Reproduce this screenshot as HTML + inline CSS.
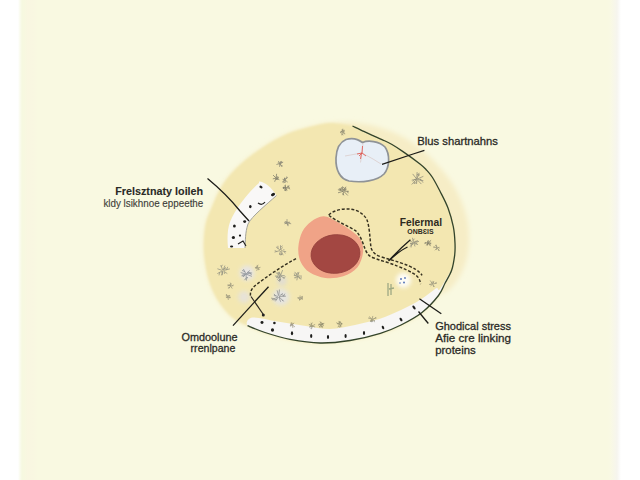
<!DOCTYPE html>
<html><head><meta charset="utf-8">
<style>
html,body{margin:0;padding:0;width:640px;height:480px;overflow:hidden;background:#fff;}
#bg{position:absolute;left:18px;top:0;width:603px;height:480px;
background:linear-gradient(90deg,#ffffff 0px,#fbfcf2 1.5px,#f6f8e0 4px,#f7f8e0 6px,#f9f6e1 10px,#f9f7e1 15px,#f9f9e1 20px,#f9f9e1 589px,#f9f9e3 592px,#f6f5ee 599px,#fcfcfb 602px,#fff 603px);}
svg{position:absolute;left:0;top:0;}
.t{font-family:"Liberation Sans",sans-serif;fill:#2a2a26;stroke:#2a2a26;stroke-width:0.3px;}
</style></head>
<body>
<div id="bg"></div>
<svg width="640" height="480" viewBox="0 0 640 480">
<defs>
<filter id="b05" x="-5%" y="-5%" width="110%" height="110%"><feGaussianBlur stdDeviation="0.6"/></filter>
<filter id="b15" x="-10%" y="-10%" width="120%" height="120%"><feGaussianBlur stdDeviation="2.4"/></filter>
<filter id="b08" x="-10%" y="-10%" width="120%" height="120%"><feGaussianBlur stdDeviation="0.9"/></filter>
<filter id="b2" x="-50%" y="-50%" width="200%" height="200%"><feGaussianBlur stdDeviation="2"/></filter>
<linearGradient id="bandg" x1="0" y1="0" x2="0" y2="1">
<stop offset="0" stop-color="#f2eedc"/><stop offset="0.35" stop-color="#f7f6f4"/><stop offset="1" stop-color="#f8f7f8"/>
</linearGradient>
</defs>
<path d="M330.0,123.0 C337.1,122.2 345.3,122.2 352.0,122.5 C358.7,122.8 364.9,124.0 370.0,125.0 C375.1,126.0 378.3,127.2 382.5,128.5 C386.7,129.8 390.8,131.2 395.0,133.0 C399.2,134.8 403.2,136.8 407.5,139.5 C411.8,142.2 416.8,145.6 421.0,149.0 C425.2,152.4 428.2,154.8 433.0,160.0 C437.8,165.2 445.3,173.3 450.0,180.0 C454.7,186.7 458.1,193.2 461.0,200.0 C463.9,206.8 466.2,214.3 467.5,221.0 C468.8,227.7 469.1,233.8 469.0,240.0 C468.9,246.2 468.5,252.0 467.0,258.0 C465.5,264.0 463.0,270.7 460.0,276.0 C457.0,281.3 452.6,286.8 449.0,290.0 C445.4,293.2 443.0,291.8 438.5,295.5 C434.0,299.2 428.2,307.6 422.0,312.5 C415.8,317.4 407.9,321.5 401.0,325.0 C394.1,328.5 388.9,330.8 380.4,333.3 C371.9,335.8 360.1,338.4 350.0,340.0 C339.9,341.6 330.0,343.1 320.0,343.0 C310.0,342.9 299.2,341.1 290.0,339.4 C280.8,337.6 272.1,334.8 265.0,332.5 C257.9,330.2 252.8,328.0 247.5,325.6 C242.2,323.2 237.8,321.9 233.0,318.0 C228.2,314.1 223.0,308.2 219.0,302.0 C215.0,295.8 211.5,288.8 209.0,280.5 C206.5,272.2 204.6,261.1 204.0,252.0 C203.4,242.9 204.1,233.5 205.4,226.0 C206.7,218.5 209.0,214.1 212.0,207.0 C215.0,199.9 218.7,190.7 223.5,183.5 C228.3,176.3 234.3,170.1 241.0,164.0 C247.7,157.9 255.8,152.0 263.5,147.0 C271.2,142.0 279.4,137.3 287.0,134.0 C294.6,130.7 302.2,128.8 309.4,127.0 C316.6,125.2 322.9,123.8 330.0,123.0 Z" fill="#f6edc6" filter="url(#b15)"/>
<path d="M352.5,126.0 C354.4,126.9 360.3,129.8 363.8,131.4 C367.2,133.0 369.9,134.2 373.0,135.6 C376.1,137.0 379.3,138.3 382.5,139.8 C385.7,141.3 388.6,142.5 392.0,144.5 C395.4,146.5 398.3,148.3 403.0,151.6 C407.7,154.8 416.2,161.0 420.0,164.0 C423.8,167.0 423.9,167.2 426.0,169.5 C428.1,171.8 430.2,173.9 432.5,177.5 C434.8,181.1 437.4,186.2 440.0,191.2 C442.6,196.3 445.8,202.1 448.0,208.0 C450.2,213.9 452.1,220.8 453.3,226.7 C454.5,232.6 454.8,238.6 455.0,243.3 C455.2,248.0 455.2,250.6 454.7,255.0 C454.1,259.4 453.3,265.3 451.7,270.0 C450.1,274.7 447.2,279.1 445.0,283.3 C442.8,287.6 442.3,290.6 438.5,295.5 C434.7,300.4 428.2,307.6 422.0,312.5 C415.8,317.4 407.9,321.5 401.0,325.0 C394.1,328.5 388.9,330.7 380.4,333.3 C371.9,335.9 360.1,338.9 350.0,340.5 C339.9,342.1 330.0,343.2 320.0,343.0 C310.0,342.8 299.2,341.1 290.0,339.4 C280.8,337.6 272.1,334.8 265.0,332.5 C257.9,330.2 252.8,328.0 247.5,325.6 C242.2,323.2 237.8,321.9 233.0,318.0 C228.2,314.1 223.0,308.2 219.0,302.0 C215.0,295.8 211.5,288.8 209.0,280.5 C206.5,272.2 204.6,261.1 204.0,252.0 C203.4,242.9 204.1,233.5 205.4,226.0 C206.7,218.5 209.0,214.1 212.0,207.0 C215.0,199.9 218.7,190.7 223.5,183.5 C228.3,176.3 234.3,170.1 241.0,164.0 C247.7,157.9 255.8,152.0 263.5,147.0 C271.2,142.0 279.4,137.3 287.0,134.0 C294.6,130.7 302.2,128.8 309.4,127.0 C316.6,125.2 322.8,123.2 330.0,123.0 C337.2,122.8 348.8,125.5 352.5,126.0 C356.2,126.5 350.6,125.1 352.5,126.0 Z" fill="#f3e7b1" filter="url(#b08)"/>
<path d="M440.0,289.0 C442.4,286.0 450.9,270.9 451.7,270.0 C452.5,269.1 447.2,279.1 445.0,283.3 C442.8,287.6 442.3,290.6 438.5,295.5 C434.7,300.4 428.2,307.6 422.0,312.5 C415.8,317.4 407.9,321.5 401.0,325.0 C394.1,328.5 388.9,330.7 380.4,333.3 C371.9,335.9 360.1,338.9 350.0,340.5 C339.9,342.1 330.0,343.2 320.0,343.0 C310.0,342.8 299.2,341.1 290.0,339.4 C280.8,337.6 272.1,334.8 265.0,332.5 C257.9,330.2 249.6,328.1 247.5,325.6 C245.4,323.1 247.5,318.2 252.5,317.5 C257.5,316.8 269.2,320.2 277.5,321.5 C285.8,322.8 293.8,324.2 302.5,325.5 C311.2,326.8 321.2,329.1 330.0,329.0 C338.8,328.9 346.7,326.7 355.0,325.0 C363.3,323.3 372.3,321.2 380.0,318.8 C387.7,316.2 394.3,313.1 401.0,310.0 C407.7,306.9 414.8,303.2 420.0,300.0 C425.2,296.8 429.7,293.0 432.5,291.0 C435.3,289.0 435.8,288.3 437.0,288.0 C438.2,287.7 437.6,292.0 440.0,289.0 Z" fill="#f7f6f5" filter="url(#b05)"/>
<path d="M352.5,126.0 C354.4,126.9 360.3,129.8 363.8,131.4 C367.2,133.0 369.9,134.2 373.0,135.6 C376.1,137.0 379.3,138.3 382.5,139.8 C385.7,141.3 388.6,142.5 392.0,144.5 C395.4,146.5 398.3,148.3 403.0,151.6 C407.7,154.8 416.2,161.0 420.0,164.0 C423.8,167.0 423.9,167.2 426.0,169.5 C428.1,171.8 430.2,173.9 432.5,177.5 C434.8,181.1 437.4,186.2 440.0,191.2 C442.6,196.3 445.8,202.1 448.0,208.0 C450.2,213.9 452.1,220.8 453.3,226.7 C454.5,232.6 454.8,238.6 455.0,243.3 C455.2,248.0 455.2,250.6 454.7,255.0 C454.1,259.4 453.3,265.3 451.7,270.0 C450.1,274.7 447.2,279.1 445.0,283.3 C442.8,287.6 442.3,290.6 438.5,295.5 C434.7,300.4 428.2,307.6 422.0,312.5 C415.8,317.4 407.9,321.5 401.0,325.0 C394.1,328.5 388.9,330.7 380.4,333.3 C371.9,335.9 360.1,338.9 350.0,340.5 C339.9,342.1 330.0,343.2 320.0,343.0 C310.0,342.8 299.2,341.1 290.0,339.4 C280.8,337.6 272.1,334.8 265.0,332.5 C257.9,330.2 250.4,326.8 247.5,325.6" fill="none" stroke="#33442b" stroke-width="1.3"/>
<!-- blobs -->
<g filter="url(#b2)" opacity="0.9">
<circle cx="247" cy="273" r="7.5" fill="#e6e4e8"/>
<circle cx="244" cy="297" r="6" fill="#e6e2dc"/>
<circle cx="281" cy="297" r="8.5" fill="#e4e4e6"/>
<circle cx="282" cy="281" r="5" fill="#e0ddd4"/>
<circle cx="403.5" cy="280.3" r="7.5" fill="#ffffff"/>
</g>
<g fill="#5a78b8"><circle cx="401" cy="279" r="1"/><circle cx="405" cy="278" r="0.9"/><circle cx="404" cy="282.5" r="1"/><circle cx="400" cy="283" r="0.8"/></g>
<path d="M388,283 L388,296 M391,284 L391,295 M389,289 L394,288" stroke="#8a9a78" stroke-width="1.3" fill="none" opacity="0.8"/>
<g opacity="0.60" fill="#5a5a50"><path d="M342.4,132.5 L341.8,134.9 M342.0,133.9 L342.8,135.0 M342.0,132.0 L340.4,132.0 M341.3,132.0 L340.4,132.7 M342.6,131.5 L342.8,129.1 M342.7,130.5 L342.2,129.6 M343.0,131.8 L344.4,131.1 M343.8,131.4 L344.1,130.2 M343.0,132.3 L344.9,133.5 M343.8,132.8 L344.0,134.0 " stroke="#5a5a50" stroke-width="0.80" fill="none" stroke-linecap="round"/><circle cx="342.1" cy="131.1" r="0.64"/><circle cx="341.5" cy="131.4" r="0.63"/><circle cx="343.0" cy="130.4" r="0.61"/></g>
<g opacity="0.60" fill="#4f5254"><path d="M280.3,164.0 L281.8,166.6 M281.1,165.5 L282.3,165.8 M279.9,164.1 L279.6,166.5 M279.4,163.7 L276.8,164.4 M279.7,163.0 L278.5,161.3 M280.2,162.9 L280.9,161.3 M280.4,162.4 L281.7,162.2 M280.6,163.3 L282.8,162.4 M281.6,162.9 L281.7,161.6 " stroke="#4f5254" stroke-width="0.80" fill="none" stroke-linecap="round"/><circle cx="280.1" cy="164.1" r="0.71"/><circle cx="280.0" cy="163.6" r="0.88"/><circle cx="278.3" cy="162.9" r="0.58"/></g>
<g opacity="0.60" fill="#3a3d40"><path d="M276.6,178.0 L278.3,178.0 M277.7,178.0 L278.6,177.2 M276.5,178.3 L279.0,179.6 M275.8,178.6 L274.8,181.4 M275.4,178.2 L273.2,178.8 M275.6,177.6 L273.3,175.3 M276.1,177.4 L276.6,174.2 " stroke="#3a3d40" stroke-width="0.80" fill="none" stroke-linecap="round"/><circle cx="277.1" cy="177.1" r="0.75"/><circle cx="276.0" cy="178.1" r="0.65"/><circle cx="276.9" cy="179.1" r="0.95"/></g>
<g opacity="0.60" fill="#4a4d50"><path d="M285.0,180.5 L285.1,182.5 M285.1,181.7 L284.1,182.6 M284.6,180.3 L282.7,181.6 M283.4,181.2 L283.2,182.5 M284.5,179.9 L282.9,179.4 M284.9,179.5 L284.7,178.1 M285.4,179.6 L287.4,177.5 M286.7,178.2 L286.7,176.9 M285.4,180.3 L287.4,181.9 " stroke="#4a4d50" stroke-width="0.80" fill="none" stroke-linecap="round"/><circle cx="284.8" cy="178.6" r="0.93"/><circle cx="285.6" cy="180.7" r="0.52"/><circle cx="284.4" cy="180.0" r="0.80"/></g>
<g opacity="0.60" fill="#3a3d40"><path d="M285.4,187.9 L283.8,187.7 M284.7,187.8 L283.7,188.4 M285.7,187.5 L284.9,185.9 M285.3,186.6 L285.4,185.1 M286.5,187.7 L289.1,186.1 M287.9,186.8 L288.1,185.8 M286.6,188.0 L289.6,187.9 M288.7,187.9 L289.5,189.0 M286.0,188.6 L286.1,190.4 M286.1,189.4 L287.1,190.0 M285.7,188.5 L284.7,190.3 M285.0,189.7 L285.7,190.8 " stroke="#3a3d40" stroke-width="0.80" fill="none" stroke-linecap="round"/><circle cx="285.5" cy="187.9" r="0.79"/><circle cx="283.6" cy="187.8" r="0.93"/></g>
<g opacity="0.60" fill="#5a5d60"><path d="M287.2,223.6 L287.9,225.8 M287.5,224.4 L288.6,224.9 M286.4,223.2 L284.8,223.7 M285.7,223.4 L284.8,222.7 M286.5,222.6 L285.3,221.6 M286.0,222.2 L284.8,222.2 M287.0,222.4 L287.0,219.5 M287.6,222.8 L289.2,222.1 M288.5,222.4 L289.8,222.8 M287.6,223.1 L290.8,223.7 " stroke="#5a5d60" stroke-width="0.80" fill="none" stroke-linecap="round"/><circle cx="287.0" cy="223.0" r="0.63"/><circle cx="286.8" cy="222.2" r="0.84"/><circle cx="287.4" cy="224.1" r="0.63"/><circle cx="286.4" cy="223.2" r="0.62"/></g>
<g opacity="0.60" fill="#55585a"><path d="M416.2,178.4 L412.9,174.2 M416.8,178.2 L417.1,172.5 M417.0,174.9 L419.2,173.4 M417.2,178.2 L418.7,174.2 M418.1,175.9 L419.7,174.8 M417.8,178.8 L423.0,176.5 M417.8,179.4 L423.0,180.6 M421.1,180.1 L422.8,182.3 M417.5,180.0 L421.1,183.8 M416.7,180.2 L416.6,183.6 M416.7,181.6 L414.8,183.7 M416.1,180.0 L412.0,184.2 M414.4,181.7 L414.2,183.6 M415.8,179.4 L412.1,180.1 M414.4,179.6 L413.0,181.2 " stroke="#55585a" stroke-width="0.80" fill="none" stroke-linecap="round"/><circle cx="415.3" cy="179.4" r="0.72"/><circle cx="416.7" cy="178.9" r="0.94"/><circle cx="420.4" cy="179.7" r="0.88"/></g>
<g opacity="0.60" fill="#3a3c3e"><path d="M344.1,190.4 L345.8,187.1 M344.7,189.1 L343.5,187.4 M344.4,190.7 L346.4,189.2 M345.2,190.1 L345.0,188.1 M344.6,191.2 L348.5,191.3 M347.2,191.3 L348.1,192.9 M344.3,191.9 L347.5,195.2 M343.5,192.1 L342.9,194.7 M343.1,193.6 L343.7,195.0 M342.8,191.4 L338.4,192.7 M342.8,191.0 L338.3,189.8 M340.1,190.2 L339.4,188.6 M343.2,190.4 L341.5,187.6 M342.2,188.8 L342.5,186.8 " stroke="#3a3c3e" stroke-width="0.80" fill="none" stroke-linecap="round"/><circle cx="343.4" cy="189.6" r="0.60"/><circle cx="340.8" cy="189.2" r="0.89"/><circle cx="342.9" cy="191.1" r="0.58"/></g>
<g opacity="0.60" fill="#5c6266"><path d="M222.8,271.6 L222.3,274.8 M222.6,271.6 L221.5,275.0 M222.0,271.1 L217.7,273.4 M219.6,272.4 L219.1,275.0 M221.9,270.3 L217.8,268.9 M222.5,269.6 L220.9,265.5 M221.3,266.6 L222.3,265.1 M223.3,269.6 L224.8,265.9 M223.5,269.8 L225.4,267.4 M224.2,268.9 L226.1,268.9 M223.9,270.4 L229.5,269.0 M226.6,269.7 L227.6,267.2 M223.8,271.2 L227.0,273.4 " stroke="#5c6266" stroke-width="0.80" fill="none" stroke-linecap="round"/><circle cx="224.5" cy="273.1" r="0.74"/><circle cx="222.2" cy="272.2" r="0.79"/></g>
<g opacity="0.60" fill="#4f5a68"><path d="M245.1,274.3 L242.2,275.2 M245.1,273.8 L241.1,272.7 M245.5,273.1 L243.6,269.4 M244.8,271.6 L242.4,270.6 M246.7,273.3 L249.5,270.7 M247.8,272.3 L250.3,272.6 M247.0,273.8 L251.7,273.0 M250.2,273.3 L251.3,274.7 M246.9,274.4 L251.5,276.2 M246.1,275.0 L246.4,280.2 M246.3,277.8 L244.8,279.8 M245.3,274.7 L243.4,276.7 M244.3,275.7 L242.0,275.9 " stroke="#4f5a68" stroke-width="0.80" fill="none" stroke-linecap="round"/><circle cx="246.0" cy="274.0" r="0.84"/><circle cx="247.3" cy="277.7" r="0.65"/></g>
<g opacity="0.60" fill="#6a6a60"><path d="M230.1,285.8 L228.0,284.9 M228.7,285.2 L227.8,285.6 M230.7,285.5 L231.0,283.6 M230.9,284.1 L230.3,282.9 M231.1,285.9 L233.1,285.7 M232.4,285.8 L233.1,285.0 M230.9,286.4 L232.0,288.2 M230.3,286.4 L229.1,288.2 M229.6,287.5 L228.3,287.9 " stroke="#6a6a60" stroke-width="0.80" fill="none" stroke-linecap="round"/><circle cx="228.8" cy="285.6" r="0.61"/><circle cx="230.0" cy="285.0" r="0.71"/><circle cx="230.1" cy="285.3" r="0.73"/></g>
<g opacity="0.60" fill="#5f6266"><path d="M279.6,250.7 L274.9,252.0 M276.8,251.5 L275.1,250.7 M279.8,249.9 L276.3,247.1 M278.0,248.5 L277.9,246.2 M280.5,249.6 L280.5,245.6 M280.5,247.4 L282.3,246.0 M281.0,249.7 L282.3,247.6 M281.4,250.7 L285.8,251.6 M284.1,251.3 L285.1,253.1 M281.0,251.3 L283.0,254.9 M282.0,253.1 L281.2,254.7 M280.3,251.4 L279.6,254.5 M279.9,253.4 L280.6,255.0 " stroke="#5f6266" stroke-width="0.80" fill="none" stroke-linecap="round"/><circle cx="283.9" cy="249.6" r="0.50"/><circle cx="281.5" cy="254.2" r="0.71"/></g>
<g opacity="0.60" fill="#5c6266"><path d="M279.5,275.9 L275.3,276.1 M277.8,276.0 L276.6,277.6 M279.7,275.3 L275.8,272.6 M278.1,274.2 L278.3,272.4 M280.2,274.9 L279.4,272.1 M279.9,273.7 L277.8,272.9 M280.7,275.0 L282.5,270.4 M281.3,275.7 L284.3,275.6 M281.2,276.3 L284.2,278.3 M283.4,277.8 L285.2,276.9 M280.3,276.7 L279.7,281.4 M279.9,279.5 L278.4,280.6 M279.8,276.5 L277.5,279.4 M278.9,277.6 L276.6,277.1 " stroke="#5c6266" stroke-width="0.80" fill="none" stroke-linecap="round"/><circle cx="280.1" cy="279.7" r="0.89"/><circle cx="279.4" cy="276.7" r="0.61"/><circle cx="279.6" cy="277.1" r="0.76"/><circle cx="280.5" cy="275.0" r="0.67"/></g>
<g opacity="0.60" fill="#5c6266"><path d="M297.5,276.5 L296.9,280.0 M297.1,276.3 L295.3,278.2 M296.3,277.1 L294.7,277.4 M296.9,275.7 L294.2,275.4 M295.1,275.5 L294.4,273.8 M297.2,275.2 L294.9,272.2 M297.9,275.1 L298.9,272.3 M298.3,273.9 L297.7,272.6 M298.3,275.9 L301.6,276.1 M298.1,276.4 L300.8,279.3 M299.8,278.2 L301.6,277.9 " stroke="#5c6266" stroke-width="0.80" fill="none" stroke-linecap="round"/><circle cx="296.9" cy="274.0" r="0.84"/><circle cx="299.2" cy="277.6" r="0.70"/><circle cx="297.9" cy="276.4" r="0.74"/></g>
<g opacity="0.60" fill="#5a5e62"><path d="M279.5,297.3 L283.4,301.2 M279.1,297.5 L280.5,301.4 M278.0,297.4 L275.6,301.0 M276.8,299.2 L273.9,300.0 M277.6,297.0 L272.2,299.8 M274.2,298.8 L271.5,298.2 M277.5,296.2 L274.3,295.6 M275.7,295.8 L274.2,294.2 M278.4,295.2 L277.2,290.7 M278.8,295.2 L279.4,289.9 M279.7,295.7 L282.6,293.6 M281.4,294.5 L284.1,295.7 M279.9,296.4 L285.5,296.2 M283.4,296.2 L284.7,294.0 " stroke="#5a5e62" stroke-width="0.80" fill="none" stroke-linecap="round"/><circle cx="282.8" cy="300.3" r="0.63"/><circle cx="279.4" cy="297.0" r="0.69"/></g>
<g opacity="0.60" fill="#55585a"><path d="M414.4,242.6 L417.5,240.8 M416.8,241.3 L418.6,241.5 M414.4,243.3 L417.7,244.5 M415.9,243.8 L417.1,243.0 M414.0,243.7 L414.9,246.1 M413.2,243.5 L410.5,246.2 M411.2,245.5 L411.1,247.1 M413.0,243.2 L410.9,243.8 M412.0,243.5 L411.6,245.2 M413.0,242.6 L409.6,240.7 M413.5,242.3 L412.6,238.2 M413.1,240.4 L414.3,239.0 M414.2,242.5 L415.6,241.0 M414.8,241.9 L416.3,242.3 " stroke="#55585a" stroke-width="0.80" fill="none" stroke-linecap="round"/><circle cx="410.8" cy="243.6" r="0.75"/><circle cx="412.3" cy="244.0" r="0.58"/></g>
<g opacity="0.60" fill="#2f3236"><path d="M428.0,243.4 L426.7,245.0 M427.3,244.2 L427.3,245.2 M427.8,243.0 L425.1,242.8 M425.8,242.9 L424.9,243.4 M428.2,242.5 L427.8,241.1 M427.9,241.7 L428.5,240.7 M428.7,242.6 L430.8,240.6 M428.8,243.0 L430.9,243.2 M430.0,243.2 L430.4,244.1 M428.6,243.4 L430.3,245.8 " stroke="#2f3236" stroke-width="0.80" fill="none" stroke-linecap="round"/><circle cx="427.7" cy="242.9" r="0.57"/><circle cx="427.9" cy="244.1" r="0.53"/></g>
<g opacity="0.60" fill="#6a6a60"><path d="M436.5,247.8 L433.7,246.9 M434.6,247.2 L433.8,247.5 M436.9,247.5 L436.2,245.0 M436.5,246.0 L435.4,245.6 M437.5,247.8 L439.0,247.3 M438.1,247.6 L439.3,248.0 M437.4,248.4 L439.4,250.5 M438.6,249.6 L438.6,250.5 M436.7,248.4 L435.2,250.0 " stroke="#6a6a60" stroke-width="0.80" fill="none" stroke-linecap="round"/><circle cx="436.6" cy="247.1" r="0.73"/><circle cx="436.5" cy="248.9" r="0.76"/></g>
<g opacity="0.60" fill="#6a6a60"><path d="M432.9,284.6 L433.6,286.6 M433.3,285.7 L434.3,286.3 M432.3,284.4 L430.8,285.7 M432.1,284.1 L429.6,284.4 M432.3,283.5 L430.4,280.8 M432.9,283.5 L433.7,281.7 M433.4,282.5 L433.0,281.3 M433.3,283.9 L436.6,283.2 M435.5,283.4 L436.1,282.3 " stroke="#6a6a60" stroke-width="0.80" fill="none" stroke-linecap="round"/><circle cx="432.0" cy="283.5" r="0.55"/><circle cx="430.1" cy="284.4" r="0.57"/><circle cx="432.0" cy="282.4" r="0.57"/></g>
<g opacity="0.60" fill="#6a6248"><path d="M292.4,324.6 L291.8,322.7 M292.1,323.6 L291.1,323.2 M292.7,324.6 L293.7,323.1 M292.8,325.3 L294.6,326.7 M292.6,325.4 L292.8,327.5 M292.1,325.0 L290.7,324.8 M291.1,324.9 L290.7,324.0 " stroke="#6a6248" stroke-width="0.80" fill="none" stroke-linecap="round"/><circle cx="291.7" cy="324.6" r="0.88"/><circle cx="290.6" cy="325.8" r="0.76"/></g>
<g opacity="0.60" fill="#6a6a58"><path d="M312.5,325.8 L314.8,324.6 M312.5,326.2 L314.8,326.9 M311.9,326.5 L311.6,328.8 M311.7,327.7 L311.0,328.5 M311.5,326.2 L309.5,326.8 M310.5,326.5 L310.1,327.3 M311.5,325.8 L309.1,324.5 M310.4,325.2 L309.9,324.4 M311.9,325.5 L311.2,323.1 M311.5,323.9 L312.3,322.9 " stroke="#6a6a58" stroke-width="0.80" fill="none" stroke-linecap="round"/><circle cx="311.4" cy="324.0" r="0.60"/><circle cx="312.0" cy="326.0" r="0.79"/><circle cx="311.9" cy="326.3" r="0.79"/></g>
<g opacity="0.60" fill="#5a5a48"><path d="M321.2,325.5 L322.2,327.7 M321.7,326.5 L322.8,326.7 M320.7,325.4 L319.5,326.7 M320.1,326.1 L320.0,327.3 M320.5,324.9 L318.8,324.4 M319.2,324.6 L318.5,325.1 M321.0,324.5 L321.0,322.3 M321.0,322.9 L320.2,321.8 M321.5,324.8 L323.9,323.6 M322.6,324.2 L322.9,323.3 " stroke="#5a5a48" stroke-width="0.80" fill="none" stroke-linecap="round"/><circle cx="323.1" cy="325.5" r="0.61"/><circle cx="321.1" cy="324.5" r="0.94"/><circle cx="322.5" cy="323.9" r="0.84"/><circle cx="319.4" cy="324.1" r="0.56"/></g>
<g opacity="0.60" fill="#5a5a48"><path d="M340.2,324.3 L341.4,323.6 M340.1,324.9 L341.2,326.0 M340.6,325.4 L340.7,326.8 M339.4,324.9 L338.1,326.9 M339.2,324.3 L336.7,322.9 M339.6,324.0 L339.0,321.3 M339.3,322.6 L339.7,321.7 " stroke="#5a5a48" stroke-width="0.80" fill="none" stroke-linecap="round"/><circle cx="341.5" cy="323.8" r="0.93"/><circle cx="338.1" cy="323.8" r="0.78"/><circle cx="339.6" cy="326.8" r="0.64"/><circle cx="340.2" cy="322.2" r="0.79"/></g>
<g opacity="0.60" fill="#6a6a58"><path d="M372.7,318.9 L376.2,318.1 M374.8,318.4 L375.6,317.3 M372.6,319.4 L374.6,320.6 M373.8,320.1 L374.4,321.8 M372.2,319.7 L372.6,321.4 M372.4,320.5 L371.9,321.6 M371.6,319.6 L370.5,321.4 M370.9,320.7 L371.5,321.9 M371.3,318.8 L368.5,318.1 M371.5,318.6 L369.3,316.8 M372.2,318.4 L372.8,316.3 " stroke="#6a6a58" stroke-width="0.80" fill="none" stroke-linecap="round"/><circle cx="370.9" cy="321.3" r="0.59"/><circle cx="372.2" cy="319.2" r="0.52"/><circle cx="371.7" cy="320.8" r="0.87"/><circle cx="371.4" cy="320.0" r="0.63"/></g>
<g opacity="0.60" fill="#6a6a60"><path d="M227.8,296.6 L226.5,294.4 M227.2,295.7 L226.2,295.3 M228.2,296.6 L229.1,295.3 M228.8,295.7 L229.7,295.6 M228.4,297.1 L229.7,297.4 M229.0,297.3 L229.9,296.8 M228.0,297.4 L228.3,299.5 M227.6,297.1 L226.3,297.5 M227.0,297.3 L226.2,296.7 " stroke="#6a6a60" stroke-width="0.80" fill="none" stroke-linecap="round"/><circle cx="227.7" cy="297.1" r="0.74"/><circle cx="229.9" cy="297.6" r="0.79"/></g>
<g opacity="0.60" fill="#6a6a60"><path d="M300.5,298.2 L302.5,299.3 M301.4,298.7 L302.2,298.3 M299.9,298.5 L299.6,300.1 M299.5,297.9 L297.8,297.7 M298.8,297.8 L298.2,298.7 M300.0,297.5 L300.1,295.9 M300.4,297.7 L302.6,296.4 M301.5,297.1 L302.5,297.6 " stroke="#6a6a60" stroke-width="0.80" fill="none" stroke-linecap="round"/><circle cx="301.9" cy="298.2" r="0.78"/><circle cx="299.9" cy="299.3" r="0.91"/></g>
<g opacity="0.60" fill="#6a6a60"><path d="M257.6,267.9 L255.3,267.4 M256.2,267.6 L255.6,268.0 M257.9,267.6 L257.2,265.3 M257.4,266.0 L258.1,265.4 M258.4,267.9 L260.1,267.4 M258.3,268.4 L259.2,269.5 M258.7,268.9 L258.5,269.8 M257.8,268.4 L256.8,270.4 " stroke="#6a6a60" stroke-width="0.80" fill="none" stroke-linecap="round"/><circle cx="256.4" cy="267.8" r="0.84"/><circle cx="256.8" cy="267.3" r="0.68"/><circle cx="256.8" cy="266.9" r="0.54"/></g>
<!-- band dots -->
<g fill="#1e1e1c">
<ellipse cx="262" cy="322.5" rx="1.5" ry="1.4"/>
<ellipse cx="274.4" cy="323" rx="1.3" ry="1.3"/>
<ellipse cx="272.5" cy="330" rx="1.6" ry="1.7"/>
<ellipse cx="292" cy="333.3" rx="1.1" ry="2"/>
<ellipse cx="311.2" cy="336" rx="1.1" ry="1.9"/>
<ellipse cx="328" cy="337" rx="1.1" ry="1.9"/>
<ellipse cx="345.6" cy="336" rx="1.1" ry="1.9"/>
<ellipse cx="364" cy="333" rx="1.1" ry="1.9"/>
<ellipse cx="383" cy="327.5" rx="1.1" ry="1.9" transform="rotate(-25 383 327.5)"/>
<ellipse cx="401" cy="319.5" rx="1.1" ry="2" transform="rotate(-35 401 319.5)"/>
<ellipse cx="414" cy="307.5" rx="1.1" ry="2.2" transform="rotate(-40 414 307.5)"/>
</g>
<!-- nucleus -->
<path d="M323.7,216.3 C319.3,216.2 314.9,218.9 311.3,221.5 C307.8,224.1 304.6,227.3 302.4,231.6 C300.2,235.9 298.6,242.5 298.3,247.5 C298.0,252.5 298.7,257.6 300.6,261.7 C302.5,265.8 305.4,269.6 309.5,272.3 C313.6,275.0 319.8,277.3 325.4,278.0 C331.0,278.7 337.9,278.1 343.2,276.3 C348.5,274.6 354.0,271.4 357.3,267.5 C360.6,263.6 362.4,257.3 363.0,252.8 C363.6,248.3 362.8,244.0 361.0,240.4 C359.2,236.8 355.9,234.2 352.0,231.2 C348.1,228.2 342.5,224.7 337.8,222.2 C333.1,219.7 328.1,216.4 323.7,216.3 Z" fill="#f0a387" filter="url(#b05)"/>
<ellipse cx="335.5" cy="254" rx="24.5" ry="19.3" fill="#a34742" stroke="#93403b" stroke-width="0.8" transform="rotate(-6 335.5 254)"/>
<!-- blue vesicle -->
<path d="M346,139.5 C352,137.5 358,139 362.5,142.5 C368,140 379,141 385,147 C390,154 390,167 384,174 C377,181 362,183 349,181 C340,179 335.5,170 336,158 C336.5,149 340,142 346,139.5 Z" fill="#e8eff7" stroke="#8f9397" stroke-width="1.7"/>
<path d="M363,143 L362,153 M345,156 L356,154 L362,153 L373,159 L381,164 M362,153 L360.5,162.5" stroke="#d9c8c6" stroke-width="0.8" fill="none" opacity="0.9"/>
<path d="M362.5,146 L362,153 L359,156 M357,154 L362,153 L366,156 M361.5,153 L360.5,159" stroke="#e0504a" stroke-width="0.9" fill="none" opacity="0.9"/>
<!-- dashed lines -->
<g fill="none" stroke="#35301f" stroke-width="1.45" stroke-dasharray="3,1.8">
<path d="M328.7,215 C334,210 343,208.5 350,209 C358,210 364,214 367,220 C369.5,226 370,240 371,247.7 C373,253 376,255 380,256.5 C388,259 394,260.5 399,262.3 C406,264.5 412,267 416,269.6 C419,271.5 421,273.5 422,275.4"/>
<path d="M329,215.5 C336,221 348,226 356,231 C361,236 363,244 365.2,249.2 C367,254 370,257 374,258 C379,260 383,261 387,262.3 C395,265 401,267.5 406,269.6 C411,272 415,274 417.7,276.9 C419.5,279 420.3,281.5 420.6,284.1"/>
<path d="M296,258.6 C282,266 268,276 257,284 C252,288 250,291 250.5,296"/>
</g>
<path d="M251,296.5 L263,314" stroke="#2a2620" stroke-width="1.2" fill="none"/>
<circle cx="263.3" cy="315" r="1.5" fill="#222"/>
<!-- white tube -->
<path d="M259,181.5 C265,181.5 272,188 276.5,195.5 C266,205 252,216 248,224 C245,233 245.5,241 245,248 L228,248 C227,238 227.5,229 230,222 C236,208 247,194 259,183 Z" fill="#f9f8f7"/>
<path d="M276.5,195.5 C266,205 252,216 248,224 C245,233 245.5,241 245,248" fill="none" stroke="#a3a39a" stroke-width="1"/>
<g fill="#1e1e1c">
<ellipse cx="261" cy="187" rx="1.7" ry="1.2" transform="rotate(30 261 187)"/>
<ellipse cx="273" cy="194.5" rx="2.2" ry="1.5" transform="rotate(-30 273 194.5)"/>
<ellipse cx="250.3" cy="206.6" rx="1.3" ry="1.6"/>
<path d="M258,203 Q262,206 265,202" stroke="#1e1e1c" stroke-width="1.2" fill="none"/>
<ellipse cx="244.7" cy="221.6" rx="1.5" ry="1.3"/>
<ellipse cx="234.4" cy="226" rx="1.4" ry="1.5"/>
<ellipse cx="233.4" cy="237.5" rx="1.6" ry="1.6"/>
<ellipse cx="240" cy="235.6" rx="1.1" ry="1.1"/>
<ellipse cx="231.6" cy="246.5" rx="1.6" ry="1"/>
<path d="M238,244 L243,241 L246,246" stroke="#1e1e1c" stroke-width="1.1" fill="none"/>
</g>
<!-- pointer lines -->
<g fill="none" stroke="#1c1c18" stroke-width="1.3">
<path d="M207.5,178.5 C219,188 232,201 240,211 L249,221"/>
<path d="M382,164.4 C395,160 410,155 424.4,150.3"/>
<path d="M233,325.6 L268.5,286.7"/>
<path d="M388.5,261 C395,254 403,246 410.4,239.7 M388.5,261 C395,255 401,250 407.5,247"/>
<path d="M419.4,298.8 L441.3,313.8"/>
<path d="M418.5,311.5 L428.3,323.5"/>
</g>
<!-- labels -->
<text class="t" x="115.2" y="194.7" font-size="11.5" font-weight="bold" textLength="88" lengthAdjust="spacingAndGlyphs" style="stroke-width:0.1px">Frelsztnaty loileh</text>
<text class="t" x="103.4" y="206.5" font-size="11.8" textLength="99.9" lengthAdjust="spacingAndGlyphs" style="fill:#3d3d38;stroke:#3d3d38;stroke-width:0.15px">kldy lsikhnoe eppeethe</text>
<text class="t" x="417.3" y="144.6" font-size="11.6" textLength="80.7" lengthAdjust="spacingAndGlyphs">Blus shartnahns</text>
<text class="t" x="399.8" y="225.6" font-size="10.3" font-weight="bold" textLength="42.2" lengthAdjust="spacingAndGlyphs" style="fill:#2e2a1e;stroke:none">Felermal</text>
<text class="t" x="407.3" y="234.2" font-size="7.8" font-weight="bold" textLength="26.3" lengthAdjust="spacingAndGlyphs" style="fill:#2e2a1e;stroke:none">ONBƐIS</text>
<text class="t" x="181.5" y="340.5" font-size="11.8" textLength="56.1" lengthAdjust="spacingAndGlyphs">Omdoolune</text>
<text class="t" x="190.6" y="352" font-size="11.8" textLength="44.7" lengthAdjust="spacingAndGlyphs">rrenlpane</text>
<text class="t" x="435.2" y="330" font-size="11.8" textLength="75.8" lengthAdjust="spacingAndGlyphs">Ghodical stress</text>
<text class="t" x="435.2" y="342" font-size="11.8" textLength="75.8" lengthAdjust="spacingAndGlyphs">Afie cre linking</text>
<text class="t" x="435.2" y="353.8" font-size="11.8" textLength="40.6" lengthAdjust="spacingAndGlyphs">proteins</text>

</svg>
</body></html>
